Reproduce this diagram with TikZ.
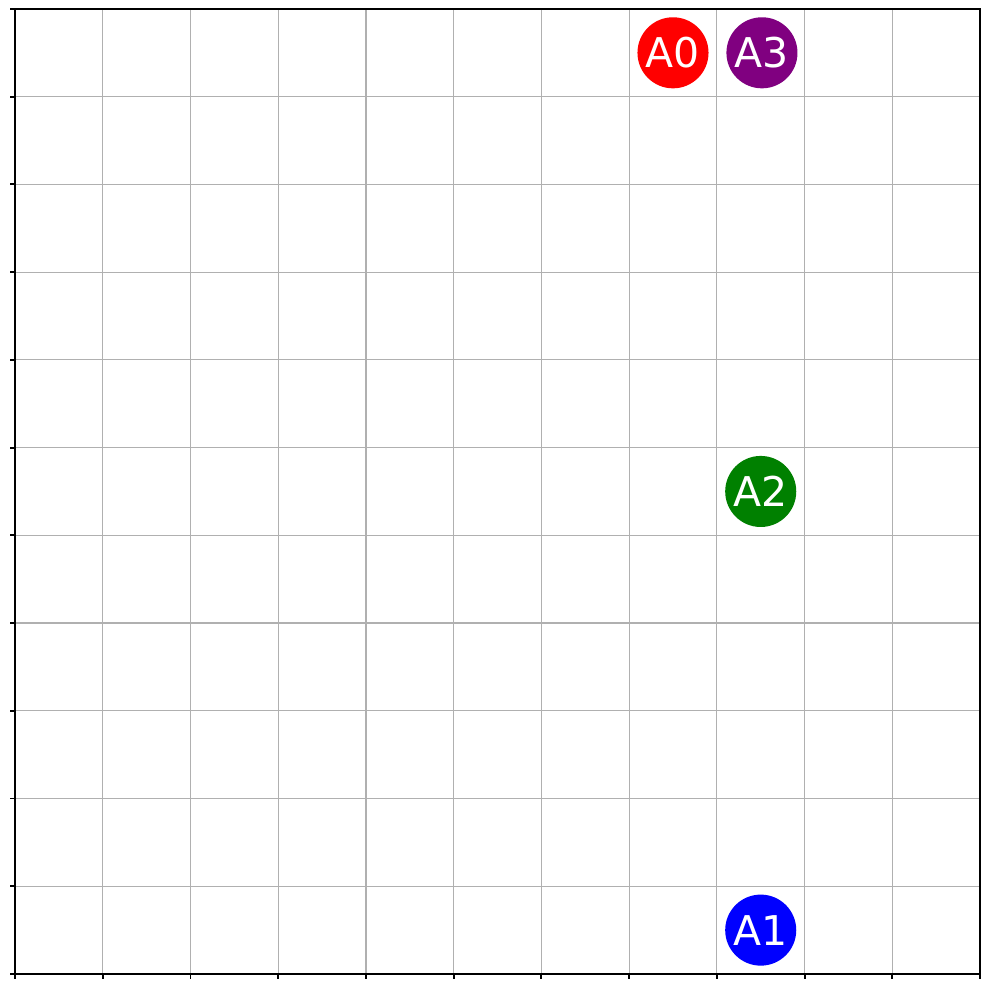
\documentclass[tikz,border=0pt]{standalone}
\usepackage{fontspec}
\setmainfont{DejaVu Sans}
\usepackage{tikz}
\usetikzlibrary{positioning}
\definecolor{gridgray}{RGB}{176,176,176}
\definecolor{agpurple}{RGB}{128,0,128}
\definecolor{aggreen}{RGB}{0,128,0}
\tikzset{
  gridline/.style={draw=gridgray,line width=0.4pt},
  spine/.style={draw=black,line width=0.6pt},
  tick/.style={draw=black,line width=0.6pt},
  agent/.style={circle,inner sep=0pt,minimum size=0.81cm,text=white,
    font=\fontsize{13.3}{14}\selectfont},
}
\begin{document}
\begin{tikzpicture}
  \useasboundingbox (-0.171,-0.171) rectangle (11.102,11.102);
  \fill[white] (-0.171,-0.171) rectangle (11.102,11.102);
  % grid
  \foreach \i in {1,...,10} {
    \draw[gridline] (\i,0) -- (\i,11);
    \draw[gridline] (0,\i) -- (11,\i);
  }
  % ticks
  \foreach \i in {0,...,11} {
    \draw[tick] (\i,0) -- (\i,-0.056);
    \draw[tick] (0,\i) -- (-0.056,\i);
  }
  \draw[spine] (0,0) rectangle (11,11);
  % agents
  \node[agent,fill=red] (a0) at (7.5,10.5) {A0};
  \node[agent,fill=agpurple,right=0.19cm of a0] (a3) {A3};
  \node[agent,fill=aggreen] (a2) at (8.5,5.5) {A2};
  \node[agent,fill=blue] (a1) at (8.5,0.5) {A1};
\end{tikzpicture}
\end{document}
